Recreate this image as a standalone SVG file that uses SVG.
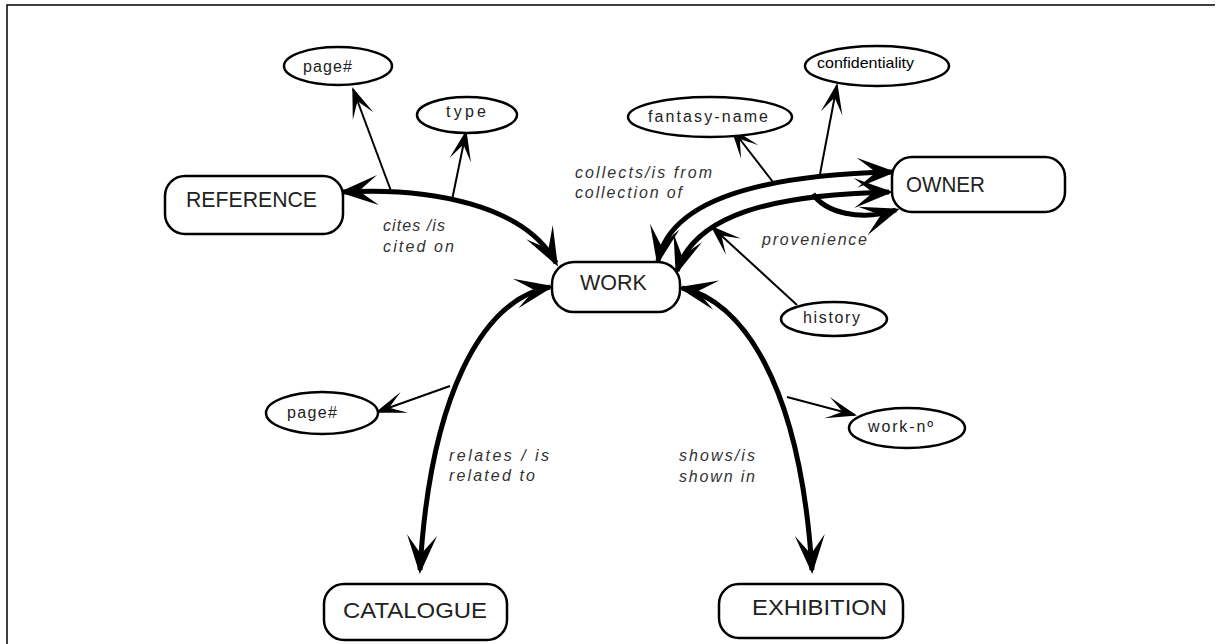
<svg xmlns="http://www.w3.org/2000/svg" width="1216" height="644" viewBox="0 0 1216 644">
<style>
.node{fill:#fff;stroke:#000;stroke-width:2.5}
.attr{fill:#fff;stroke:#000;stroke-width:2.5}
.nt{font-family:"Liberation Sans",Arial,sans-serif;font-size:22px;fill:#222}
.at{font-family:"Liberation Sans",Arial,sans-serif;font-size:16px;fill:#222}
.lb{font-family:"Liberation Sans",Arial,sans-serif;font-size:16px;font-style:italic;fill:#333}
.thick{fill:none;stroke:#000;stroke-width:5}
.thin{fill:none;stroke:#000;stroke-width:2}
.frame{fill:none;stroke:#000;stroke-width:1.5}
</style>
<defs>
<marker id="big" viewBox="-40 -18 46 36" markerWidth="46" markerHeight="36" refX="0" refY="0" orient="auto-start-reverse" markerUnits="userSpaceOnUse">
<path d="M4,0 L-35,-15 Q-21,-4 -16,0 Q-21,4 -35,15 Z" fill="#000"/>
</marker>
<marker id="small" viewBox="-34 -14 38 28" markerWidth="38" markerHeight="28" refX="0" refY="0" orient="auto" markerUnits="userSpaceOnUse">
<path d="M2,0 L-29,-11 Q-17,-3 -13,0 Q-17,3 -29,11 Z" fill="#000"/>
</marker>
</defs>
<rect width="1216" height="644" fill="#fff"/>
<path class="frame" d="M7,644 L7,5 L1215,5"/>

<g id="connectors">
<path class="thick" d="M343,192 C430,187 525,205 556,263" marker-start="url(#big)" marker-end="url(#big)"/>
<path class="thick" d="M550,287 C480,300 430,400 420,570" marker-start="url(#big)" marker-end="url(#big)"/>
<path class="thick" d="M682,288 C740,300 800,380 812,570" marker-start="url(#big)" marker-end="url(#big)"/>
<path class="thick" d="M658,261 C670,200 760,175 892,172" marker-start="url(#big)" marker-end="url(#big)"/>
<path class="thick" d="M677,271 C695,215 770,195 889,192" marker-start="url(#big)" marker-end="url(#big)"/>
<path class="thick" d="M813,194 C825,212 860,222 896,210" marker-end="url(#big)"/>
<path class="thin" d="M391,191 L353,89" marker-end="url(#small)"/>
<path class="thin" d="M452,200 L466,132" marker-end="url(#small)"/>
<path class="thin" d="M773,182 L732,129" marker-end="url(#small)"/>
<path class="thin" d="M820,174 L837,85" marker-end="url(#small)"/>
<path class="thin" d="M797,305 L712,227" marker-end="url(#small)"/>
<path class="thin" d="M787,397 L855,415" marker-end="url(#small)"/>
<path class="thin" d="M450,386 L377,412" marker-end="url(#small)"/>
<text class="lb" x="383" y="231" textLength="62" lengthAdjust="spacing">cites /is</text>
<text class="lb" x="383" y="252" textLength="71" lengthAdjust="spacing">cited on</text>
<text class="lb" x="575" y="178" textLength="137" lengthAdjust="spacing">collects/is from</text>
<text class="lb" x="575" y="198" textLength="107" lengthAdjust="spacing">collection of</text>
<text class="lb" x="762" y="245" textLength="105" lengthAdjust="spacing">provenience</text>
<text class="lb" x="449" y="461" textLength="100" lengthAdjust="spacing">relates / is</text>
<text class="lb" x="449" y="481" textLength="86" lengthAdjust="spacing">related to</text>
<text class="lb" x="679" y="461" textLength="76" lengthAdjust="spacing">shows/is</text>
<text class="lb" x="679" y="482" textLength="76" lengthAdjust="spacing">shown in</text>
</g>

<g id="reference">
<rect class="node" x="165" y="176" width="178" height="58" rx="20"/>
<text class="nt" x="186" y="207" textLength="131" lengthAdjust="spacingAndGlyphs">REFERENCE</text>
</g>
<g id="work">
<rect class="node" x="552" y="262" width="128" height="50" rx="22"/>
<text class="nt" x="580" y="290" textLength="67" lengthAdjust="spacingAndGlyphs">WORK</text>
</g>
<g id="owner">
<rect class="node" x="892" y="157" width="173" height="55" rx="20"/>
<text class="nt" x="906" y="192" textLength="79" lengthAdjust="spacingAndGlyphs">OWNER</text>
</g>
<g id="catalogue">
<rect class="node" x="324" y="584" width="183" height="56" rx="20"/>
<text class="nt" x="343" y="618" textLength="144" lengthAdjust="spacingAndGlyphs">CATALOGUE</text>
</g>
<g id="exhibition">
<rect class="node" x="719" y="584" width="184" height="54" rx="20"/>
<text class="nt" x="752" y="615" textLength="135" lengthAdjust="spacingAndGlyphs">EXHIBITION</text>
</g>
<g id="page-ref">
<ellipse class="attr" cx="338" cy="66" rx="54" ry="19"/>
<text class="at" x="303" y="72" textLength="49" lengthAdjust="spacing">page#</text>
</g>
<g id="type">
<ellipse class="attr" cx="467" cy="115" rx="50" ry="18"/>
<text class="at" x="446" y="117" textLength="40" lengthAdjust="spacing">type</text>
</g>
<g id="fantasy-name">
<ellipse class="attr" cx="710" cy="117" rx="82" ry="20"/>
<text class="at" x="648" y="122" textLength="120" lengthAdjust="spacing">fantasy-name</text>
</g>
<g id="confidentiality">
<ellipse class="attr" cx="877" cy="66" rx="72" ry="20"/>
<text x="817" y="68" font-family="Liberation Sans, Arial, sans-serif" font-size="15" fill="#000" textLength="97" lengthAdjust="spacingAndGlyphs">confidentiality</text>
</g>
<g id="history">
<ellipse class="attr" cx="834" cy="319" rx="53" ry="17"/>
<text class="at" x="803" y="323" textLength="57" lengthAdjust="spacing">history</text>
</g>
<g id="work-no">
<ellipse class="attr" cx="907" cy="428" rx="58" ry="20"/>
<text class="at" x="868" y="432" textLength="65" lengthAdjust="spacing">work-nº</text>
</g>
<g id="page-cat">
<ellipse class="attr" cx="322" cy="413" rx="56" ry="21"/>
<text class="at" x="287" y="418" textLength="50" lengthAdjust="spacing">page#</text>
</g>
</svg>
